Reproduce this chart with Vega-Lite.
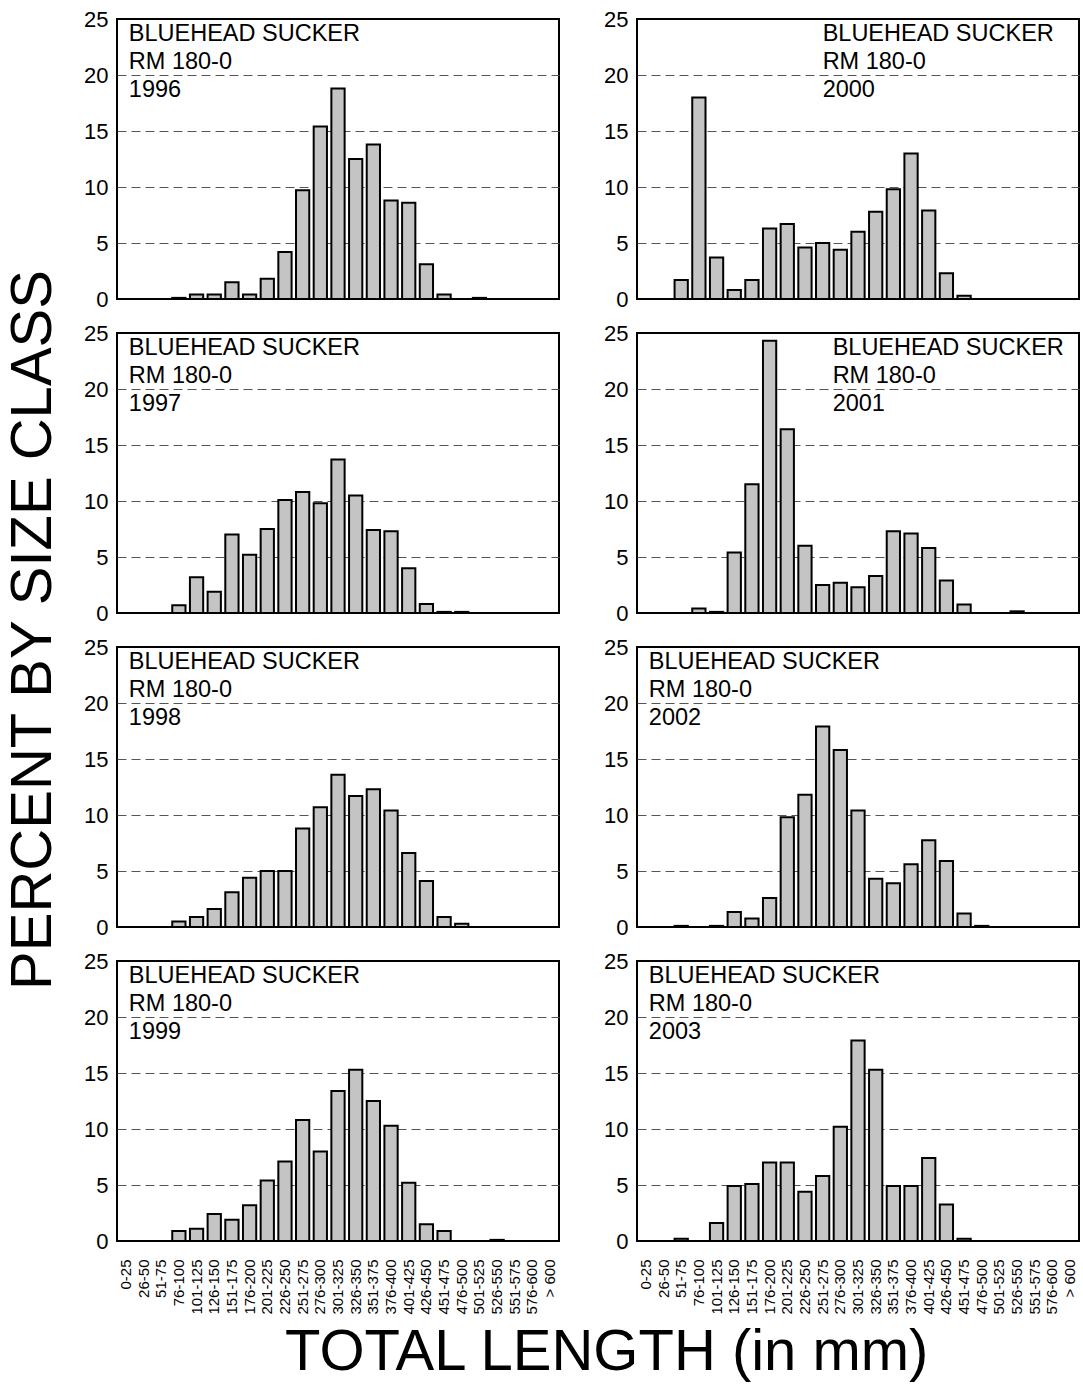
{
  "$schema": "https://vega.github.io/schema/vega-lite/v6.json",
  "padding": {"left": 4, "top": 7, "right": 3, "bottom": 1},
  "background": "white",
  "title": {"text": "TOTAL LENGTH (in mm)", "orient": "bottom", "anchor": "start", "fontSize": 58, "font": "Liberation Sans", "fontWeight": "normal", "color": "black", "dx": 280, "offset": 10},
  "config": {
    "font": "Liberation Sans",
    "view": {"stroke": "black", "strokeWidth": 2},
    "axis": {"labelColor": "black", "labelFont": "Liberation Sans"},
    "header": {"titleFont": "Liberation Sans", "titleColor": "black", "titleFontWeight": "normal"}
  },
  "data": {"values": [
    {"year": 1996, "size": "76-100", "pct": 0.1},
    {"year": 1996, "size": "101-125", "pct": 0.4},
    {"year": 1996, "size": "126-150", "pct": 0.4},
    {"year": 1996, "size": "151-175", "pct": 1.5},
    {"year": 1996, "size": "176-200", "pct": 0.4},
    {"year": 1996, "size": "201-225", "pct": 1.8},
    {"year": 1996, "size": "226-250", "pct": 4.2},
    {"year": 1996, "size": "251-275", "pct": 9.7},
    {"year": 1996, "size": "276-300", "pct": 15.4},
    {"year": 1996, "size": "301-325", "pct": 18.8},
    {"year": 1996, "size": "326-350", "pct": 12.5},
    {"year": 1996, "size": "351-375", "pct": 13.8},
    {"year": 1996, "size": "376-400", "pct": 8.8},
    {"year": 1996, "size": "401-425", "pct": 8.6},
    {"year": 1996, "size": "426-450", "pct": 3.1},
    {"year": 1996, "size": "451-475", "pct": 0.4},
    {"year": 1996, "size": "501-525", "pct": 0.1},
    {"year": 1997, "size": "76-100", "pct": 0.7},
    {"year": 1997, "size": "101-125", "pct": 3.2},
    {"year": 1997, "size": "126-150", "pct": 1.9},
    {"year": 1997, "size": "151-175", "pct": 7.0},
    {"year": 1997, "size": "176-200", "pct": 5.2},
    {"year": 1997, "size": "201-225", "pct": 7.5},
    {"year": 1997, "size": "226-250", "pct": 10.1},
    {"year": 1997, "size": "251-275", "pct": 10.8},
    {"year": 1997, "size": "276-300", "pct": 9.8},
    {"year": 1997, "size": "301-325", "pct": 13.7},
    {"year": 1997, "size": "326-350", "pct": 10.5},
    {"year": 1997, "size": "351-375", "pct": 7.4},
    {"year": 1997, "size": "376-400", "pct": 7.3},
    {"year": 1997, "size": "401-425", "pct": 4.0},
    {"year": 1997, "size": "426-450", "pct": 0.8},
    {"year": 1997, "size": "451-475", "pct": 0.1},
    {"year": 1997, "size": "476-500", "pct": 0.1},
    {"year": 1998, "size": "76-100", "pct": 0.5},
    {"year": 1998, "size": "101-125", "pct": 0.9},
    {"year": 1998, "size": "126-150", "pct": 1.6},
    {"year": 1998, "size": "151-175", "pct": 3.1},
    {"year": 1998, "size": "176-200", "pct": 4.4},
    {"year": 1998, "size": "201-225", "pct": 5.0},
    {"year": 1998, "size": "226-250", "pct": 5.0},
    {"year": 1998, "size": "251-275", "pct": 8.8},
    {"year": 1998, "size": "276-300", "pct": 10.7},
    {"year": 1998, "size": "301-325", "pct": 13.6},
    {"year": 1998, "size": "326-350", "pct": 11.7},
    {"year": 1998, "size": "351-375", "pct": 12.3},
    {"year": 1998, "size": "376-400", "pct": 10.4},
    {"year": 1998, "size": "401-425", "pct": 6.6},
    {"year": 1998, "size": "426-450", "pct": 4.1},
    {"year": 1998, "size": "451-475", "pct": 0.9},
    {"year": 1998, "size": "476-500", "pct": 0.3},
    {"year": 1999, "size": "76-100", "pct": 0.9},
    {"year": 1999, "size": "101-125", "pct": 1.1},
    {"year": 1999, "size": "126-150", "pct": 2.4},
    {"year": 1999, "size": "151-175", "pct": 1.9},
    {"year": 1999, "size": "176-200", "pct": 3.2},
    {"year": 1999, "size": "201-225", "pct": 5.4},
    {"year": 1999, "size": "226-250", "pct": 7.1},
    {"year": 1999, "size": "251-275", "pct": 10.8},
    {"year": 1999, "size": "276-300", "pct": 8.0},
    {"year": 1999, "size": "301-325", "pct": 13.4},
    {"year": 1999, "size": "326-350", "pct": 15.3},
    {"year": 1999, "size": "351-375", "pct": 12.5},
    {"year": 1999, "size": "376-400", "pct": 10.3},
    {"year": 1999, "size": "401-425", "pct": 5.2},
    {"year": 1999, "size": "426-450", "pct": 1.5},
    {"year": 1999, "size": "451-475", "pct": 0.9},
    {"year": 1999, "size": "526-550", "pct": 0.1},
    {"year": 2000, "size": "51-75", "pct": 1.7},
    {"year": 2000, "size": "76-100", "pct": 18.0},
    {"year": 2000, "size": "101-125", "pct": 3.7},
    {"year": 2000, "size": "126-150", "pct": 0.8},
    {"year": 2000, "size": "151-175", "pct": 1.7},
    {"year": 2000, "size": "176-200", "pct": 6.3},
    {"year": 2000, "size": "201-225", "pct": 6.7},
    {"year": 2000, "size": "226-250", "pct": 4.6},
    {"year": 2000, "size": "251-275", "pct": 5.0},
    {"year": 2000, "size": "276-300", "pct": 4.4},
    {"year": 2000, "size": "301-325", "pct": 6.0},
    {"year": 2000, "size": "326-350", "pct": 7.8},
    {"year": 2000, "size": "351-375", "pct": 9.8},
    {"year": 2000, "size": "376-400", "pct": 13.0},
    {"year": 2000, "size": "401-425", "pct": 7.9},
    {"year": 2000, "size": "426-450", "pct": 2.3},
    {"year": 2000, "size": "451-475", "pct": 0.3},
    {"year": 2001, "size": "76-100", "pct": 0.4},
    {"year": 2001, "size": "101-125", "pct": 0.1},
    {"year": 2001, "size": "126-150", "pct": 5.4},
    {"year": 2001, "size": "151-175", "pct": 11.5},
    {"year": 2001, "size": "176-200", "pct": 24.3},
    {"year": 2001, "size": "201-225", "pct": 16.4},
    {"year": 2001, "size": "226-250", "pct": 6.0},
    {"year": 2001, "size": "251-275", "pct": 2.5},
    {"year": 2001, "size": "276-300", "pct": 2.7},
    {"year": 2001, "size": "301-325", "pct": 2.3},
    {"year": 2001, "size": "326-350", "pct": 3.3},
    {"year": 2001, "size": "351-375", "pct": 7.3},
    {"year": 2001, "size": "376-400", "pct": 7.1},
    {"year": 2001, "size": "401-425", "pct": 5.8},
    {"year": 2001, "size": "426-450", "pct": 2.9},
    {"year": 2001, "size": "451-475", "pct": 0.75},
    {"year": 2001, "size": "526-550", "pct": 0.15},
    {"year": 2002, "size": "51-75", "pct": 0.1},
    {"year": 2002, "size": "101-125", "pct": 0.1},
    {"year": 2002, "size": "126-150", "pct": 1.35},
    {"year": 2002, "size": "151-175", "pct": 0.75},
    {"year": 2002, "size": "176-200", "pct": 2.6},
    {"year": 2002, "size": "201-225", "pct": 9.8},
    {"year": 2002, "size": "226-250", "pct": 11.8},
    {"year": 2002, "size": "251-275", "pct": 17.9},
    {"year": 2002, "size": "276-300", "pct": 15.8},
    {"year": 2002, "size": "301-325", "pct": 10.4},
    {"year": 2002, "size": "326-350", "pct": 4.3},
    {"year": 2002, "size": "351-375", "pct": 3.9},
    {"year": 2002, "size": "376-400", "pct": 5.6},
    {"year": 2002, "size": "401-425", "pct": 7.75},
    {"year": 2002, "size": "426-450", "pct": 5.9},
    {"year": 2002, "size": "451-475", "pct": 1.2},
    {"year": 2002, "size": "476-500", "pct": 0.1},
    {"year": 2003, "size": "51-75", "pct": 0.2},
    {"year": 2003, "size": "101-125", "pct": 1.6},
    {"year": 2003, "size": "126-150", "pct": 4.9},
    {"year": 2003, "size": "151-175", "pct": 5.1},
    {"year": 2003, "size": "176-200", "pct": 7.0},
    {"year": 2003, "size": "201-225", "pct": 7.0},
    {"year": 2003, "size": "226-250", "pct": 4.4},
    {"year": 2003, "size": "251-275", "pct": 5.8},
    {"year": 2003, "size": "276-300", "pct": 10.2},
    {"year": 2003, "size": "301-325", "pct": 17.9},
    {"year": 2003, "size": "326-350", "pct": 15.3},
    {"year": 2003, "size": "351-375", "pct": 4.9},
    {"year": 2003, "size": "376-400", "pct": 4.9},
    {"year": 2003, "size": "401-425", "pct": 7.4},
    {"year": 2003, "size": "426-450", "pct": 3.25},
    {"year": 2003, "size": "451-475", "pct": 0.2}
  ]},
  "transform": [
    {"calculate": "datum.year < 2000 ? 'L' : 'R'", "as": "col"},
    {"calculate": "datum.year < 2000 ? datum.year - 1996 : datum.year - 2000", "as": "row"}
  ],
  "facet": {
    "row": {"field": "row", "type": "ordinal", "header": {"title": "PERCENT BY SIZE CLASS", "labels": false, "titleFontSize": 58, "titlePadding": 9}},
    "column": {"field": "col", "type": "nominal", "header": {"title": null, "labels": false}}
  },
  "spacing": {"row": 10, "column": 42},
  "resolve": {"axis": {"y": "independent"}},
  "spec": {
    "width": 442,
    "height": 280,
    "layer": [
      {
        "mark": {"type": "bar", "fill": "#c4c4c4", "stroke": "black", "strokeWidth": 2},
        "encoding": {
          "x": {
            "field": "size", "type": "ordinal",
            "scale": {"domain": ["0-25","26-50","51-75","76-100","101-125","126-150","151-175","176-200","201-225","226-250","251-275","276-300","301-325","326-350","351-375","376-400","401-425","426-450","451-475","476-500","501-525","526-550","551-575","576-600","> 600"], "paddingInner": 0.25, "paddingOuter": 0.125},
            "axis": {"title": null, "labelAngle": -90, "labelFontSize": 15, "ticks": false, "domain": false, "labelPadding": 6, "grid": false}
          },
          "y": {
            "field": "pct", "type": "quantitative",
            "scale": {"domain": [0, 25], "nice": false},
            "axis": {"title": null, "values": [0, 5, 10, 15, 20, 25], "labelFontSize": 22, "ticks": false, "domain": false, "labelPadding": 9, "grid": true, "gridDash": [9, 5], "gridColor": "#555555", "gridWidth": 1,
              "gridOpacity": {"condition": {"test": "datum.value === 0 || datum.value === 25", "value": 0}, "value": 1}}
          }
        }
      },
      {
        "transform": [
          {"aggregate": [{"op": "count", "as": "n"}], "groupby": ["year", "row", "col"]},
          {"filter": "datum.year != 2000 && datum.year != 2001"},
          {"calculate": "'BLUEHEAD SUCKER\\nRM 180-0\\n' + datum.year", "as": "label"}
        ],
        "mark": {"type": "text", "align": "left", "baseline": "top", "fontSize": 23.5, "lineBreak": "\n", "lineHeight": 28, "dx": 3, "dy": 3, "color": "black"},
        "encoding": {"x": {"datum": "0-25"}, "y": {"datum": 25}, "text": {"field": "label"}}
      },
      {
        "transform": [
          {"aggregate": [{"op": "count", "as": "n"}], "groupby": ["year", "row", "col"]},
          {"filter": "datum.year == 2000"},
          {"calculate": "'BLUEHEAD SUCKER\\nRM 180-0\\n' + datum.year", "as": "label"}
        ],
        "mark": {"type": "text", "align": "left", "baseline": "top", "fontSize": 23.5, "lineBreak": "\n", "lineHeight": 28, "dx": 0, "dy": 3, "color": "black"},
        "encoding": {"x": {"datum": "251-275"}, "y": {"datum": 25}, "text": {"field": "label"}}
      },
      {
        "transform": [
          {"aggregate": [{"op": "count", "as": "n"}], "groupby": ["year", "row", "col"]},
          {"filter": "datum.year == 2001"},
          {"calculate": "'BLUEHEAD SUCKER\\nRM 180-0\\n' + datum.year", "as": "label"}
        ],
        "mark": {"type": "text", "align": "left", "baseline": "top", "fontSize": 23.5, "lineBreak": "\n", "lineHeight": 28, "dx": 10, "dy": 3, "color": "black"},
        "encoding": {"x": {"datum": "251-275"}, "y": {"datum": 25}, "text": {"field": "label"}}
      }
    ]
  }
}
